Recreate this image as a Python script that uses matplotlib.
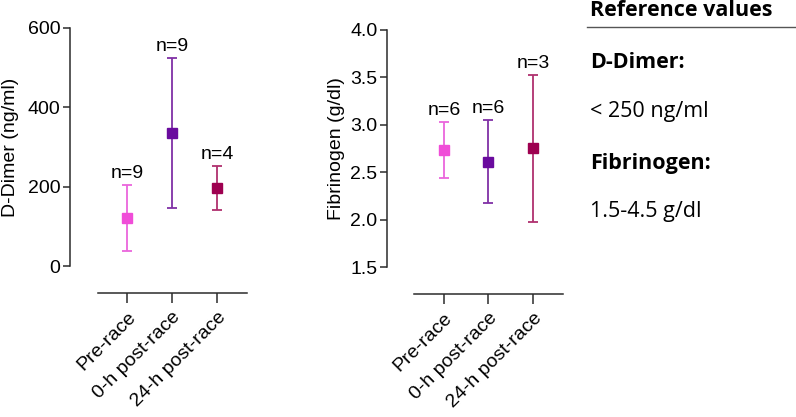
import numpy as np
import matplotlib.pyplot as plt
from matplotlib.lines import Line2D

groups = ['Pre-race', '0-h post-race', '24-h post-race']

ddimer_mean = [120, 336, 196]
ddimer_low = [38, 147, 142]
ddimer_high = [204, 525, 252]
ddimer_n = [9, 9, 4]

fib_mean = [2.73, 2.61, 2.76]
fib_low = [2.44, 2.18, 1.98]
fib_high = [3.03, 3.05, 3.53]
fib_n = [6, 6, 3]

marker_colors = ['#f04dd8', '#6a0b9e', '#9e0050']
line_colors = ['#ea66dc', '#8030a6', '#b0306e']

plt.rcParams['font.family'] = ['Liberation Sans', 'DejaVu Sans']
axis_color = '#2b2b2b'
fs = 14

fig = plt.figure(figsize=(7.96, 4.17), dpi=100)
W, H = 796, 417


def px_axes(left, top, right, bottom):
    return fig.add_axes([left / W, 1 - bottom / H, (right - left) / W, (bottom - top) / H])


def draw_panel(ax, mean, low, high, n, ylim, yticks, ylabel, xlim, xstart, label_x):
    x = np.arange(len(groups))
    for i in range(len(groups)):
        err = [[mean[i] - low[i]], [high[i] - mean[i]]]
        ax.errorbar(x[i], mean[i], yerr=err, fmt='none', ecolor=line_colors[i],
                    elinewidth=1.3, capsize=3.3, capthick=1.3, zorder=2)
        ax.plot(x[i], mean[i], marker='s', markersize=6.5, color=marker_colors[i],
                linestyle='none', zorder=3)
        ax.annotate('n=%d' % n[i], xy=(x[i], high[i]), xytext=(0, 2),
                    textcoords='offset points', ha='center', va='bottom', fontsize=fs)
    ax.set_ylim(*ylim)
    ax.set_xlim(*xlim)
    ax.set_yticks(yticks)
    ax.set_xticks(x)
    ax.set_xticklabels(groups, rotation=45, ha='right', rotation_mode='anchor', fontsize=fs)
    ax.tick_params(axis='y', labelsize=fs, length=5, width=1.1, color=axis_color, pad=2)
    ax.tick_params(axis='x', length=7, width=1.1, color=axis_color, pad=4)
    for s in ['top', 'right']:
        ax.spines[s].set_visible(False)
    for s in ['left', 'bottom']:
        ax.spines[s].set_linewidth(1.1)
        ax.spines[s].set_color(axis_color)
    ax.spines['left'].set_bounds(yticks[0], yticks[-1])
    ax.spines['bottom'].set_bounds(xstart, xlim[1])
    ax.set_ylabel(ylabel, fontsize=fs)
    ax.yaxis.set_label_coords(label_x, 0.55)
    ax.patch.set_alpha(0)


ax1 = px_axes(70, 28, 247, 293)
draw_panel(ax1, ddimer_mean, ddimer_low, ddimer_high, ddimer_n,
           (-68, 600), [0, 200, 400, 600], 'D-Dimer (ng/ml)',
           (-1.267, 2.667), -0.644, -0.29)

ax2 = px_axes(387, 30, 563, 294)
draw_panel(ax2, fib_mean, fib_low, fib_high, fib_n,
           (1.216, 4.0), [1.5, 2.0, 2.5, 3.0, 3.5, 4.0], 'Fibrinogen (g/dl)',
           (-1.275, 2.67), -0.664, -0.24)
ax2.set_yticklabels(['1.5', '2.0', '2.5', '3.0', '3.5', '4.0'])

# reference values block
ref_font = ['Open Sans', 'DejaVu Sans']
rfs = 15.5
tx = 590 / W
fig.text(tx, 1 - 10 / H, 'Reference values', fontsize=rfs, fontweight='bold',
         family=ref_font, va='center', ha='left')
fig.add_artist(Line2D([587 / W, 1.0], [1 - 27 / H, 1 - 27 / H], color='#555555', lw=1.0))
fig.text(tx, 1 - 62 / H, 'D-Dimer:', fontsize=rfs, fontweight='bold',
         family=ref_font, va='center', ha='left')
fig.text(tx, 1 - 112 / H, '< 250 ng/ml', fontsize=rfs,
         family=ref_font, va='center', ha='left')
fig.text(tx, 1 - 163 / H, 'Fibrinogen:', fontsize=rfs, fontweight='bold',
         family=ref_font, va='center', ha='left')
fig.text(tx, 1 - 212 / H, '1.5-4.5 g/dl', fontsize=rfs,
         family=ref_font, va='center', ha='left')

fig.savefig('out.png', dpi=100)
